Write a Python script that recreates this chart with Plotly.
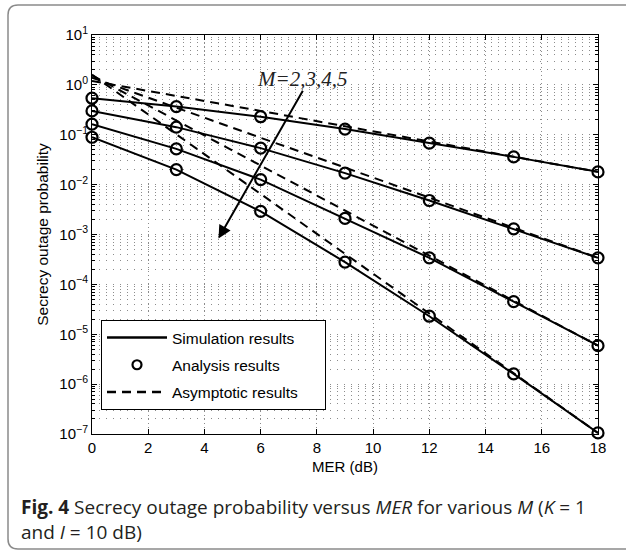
import plotly.graph_objects as go

# -----------------------------------------------------------
# data
# -----------------------------------------------------------
mer_db = [0, 3, 6, 9, 12, 15, 18]

# simulation / analysis points, one list per M
sim_m2 = [0.54, 0.367, 0.23, 0.13, 0.068, 0.036, 0.018]
sim_m3 = [0.30, 0.142, 0.054, 0.017, 0.0048, 0.0013, 3.4e-4]
sim_m4 = [0.163, 0.052, 0.0126, 0.0021, 3.4e-4, 4.5e-5, 5.9e-6]
sim_m5 = [0.089, 0.020, 0.0029, 2.8e-4, 2.3e-5, 1.6e-6, 1.05e-7]

# asymptotic curves
asym_m2 = [1.2, 0.59, 0.30, 0.148, 0.074, 0.036, 0.018]
asym_m3 = [1.4, 0.355, 0.087, 0.022, 0.0055, 0.00135, 3.4e-4]
asym_m4 = [1.55, 0.195, 0.024, 0.003, 3.8e-4, 4.7e-5, 5.9e-6]
asym_m5 = [1.6, 0.1, 0.0065, 4.1e-4, 2.6e-5, 1.6e-6, 1.05e-7]

y_tickvals = [1e1, 1e0, 1e-1, 1e-2, 1e-3, 1e-4, 1e-5, 1e-6, 1e-7]
y_ticktext = ["10<sup>1</sup>", "10<sup>0</sup>", "10<sup>\u22121</sup>", "10<sup>\u22122</sup>",
              "10<sup>\u22123</sup>", "10<sup>\u22124</sup>", "10<sup>\u22125</sup>",
              "10<sup>\u22126</sup>", "10<sup>\u22127</sup>"]
y_minor = [k * 10.0 ** e for e in range(-7, 1) for k in range(2, 10)]

sim_curves = [sim_m2, sim_m3, sim_m4, sim_m5]
asym_curves = [asym_m2, asym_m3, asym_m4, asym_m5]

# -----------------------------------------------------------
# layout helpers: plot area in pixels
# -----------------------------------------------------------
W, H = 626, 551
ML, MR, MT, MB = 92, 28, 35, 117
PW, PH = W - ML - MR, H - MT - MB


def px_x(px):
    return (px - ML) / PW


def px_y(py):
    return (MT + PH - py) / PH


fig = go.Figure()

# asymptotic (dashed)
for ys in asym_curves:
    fig.add_trace(go.Scatter(x=mer_db, y=ys, mode="lines",
                             line=dict(color="black", width=2, dash="9px,6px"),
                             showlegend=False, hoverinfo="skip"))

# simulation (solid)
for ys in sim_curves:
    fig.add_trace(go.Scatter(x=mer_db, y=ys, mode="lines",
                             line=dict(color="black", width=2),
                             showlegend=False))

# analysis (circles)
for ys in sim_curves:
    fig.add_trace(go.Scatter(x=mer_db, y=ys, mode="markers",
                             marker=dict(symbol="circle-open", size=11, color="black",
                                         line=dict(width=2.2)),
                             showlegend=False, cliponaxis=False))

# legend entries (trailing nbsp just widens the box like the original)
pad = "\u00a0" * 5
fig.add_trace(go.Scatter(x=[None], y=[None], mode="lines", name="Simulation results",
                         line=dict(color="black", width=2.5), legendgroup="a"))
fig.add_trace(go.Scatter(x=[None], y=[None], mode="markers", name="Analysis results",
                         marker=dict(symbol="circle-open", size=9, color="black",
                                     line=dict(width=2.2)), legendgroup="b"))
fig.add_trace(go.Scatter(x=[None], y=[None], mode="lines", name="Asymptotic results" + pad,
                         line=dict(color="black", width=2.5, dash="9px,6px"), legendgroup="c"))

# M=2,3,4,5 label + arrow
fig.add_annotation(x=7.48, y=0.12, xref="x", yref="y", text="M=2,3,4,5",
                   showarrow=False, xanchor="center", yanchor="middle",
                   font=dict(family="Liberation Serif", size=21, style="italic", color="#222"))
fig.add_annotation(x=4.5, y=-3.08, ax=7.53, ay=-0.086, xref="x", yref="y",
                   axref="x", ayref="y", text="", showarrow=True,
                   arrowhead=2, arrowsize=1.3, arrowwidth=2, arrowcolor="black")

# caption
fig.add_annotation(x=px_x(19), y=px_y(519.5), xref="paper", yref="paper", xanchor="left",
                   yanchor="middle", showarrow=False, align="left",
                   text="<b>Fig. 4</b> Secrecy outage probability versus <i>MER</i> for various "
                        "<i>M</i> (<i>K</i> = 1<br>and <i>I</i> = 10 dB)",
                   font=dict(family="Open Sans", size=19, color="#231f20"))

# rounded frame around figure + caption
r = 10
x0, x1 = px_x(8), px_x(640)
y0, y1 = px_y(5), px_y(549)
rx, ry = r / PW, r / PH
frame = (f"M {x1},{y0} L {x0 + rx},{y0} Q {x0},{y0} {x0},{y0 - ry} "
         f"L {x0},{y1 + ry} Q {x0},{y1} {x0 + rx},{y1} L {x1},{y1}")
fig.add_shape(type="path", path=frame, xref="paper", yref="paper",
              line=dict(color="#8a8a8a", width=1.5))

grid = "#8c8c8c"
fig.update_xaxes(range=[0, 18], tickmode="linear", tick0=0, dtick=2,
                 ticks="inside", ticklen=5, tickcolor="black", mirror="ticks",
                 showline=True, linecolor="black", linewidth=1,
                 showgrid=True, gridcolor=grid, gridwidth=1, griddash="1px,3px",
                 zeroline=False,
                 title=dict(text="MER (dB)", standoff=6, font=dict(size=15)),
                 tickfont=dict(size=15))
fig.update_yaxes(type="log", range=[-7, 1], tickmode="array",
                 tickvals=y_tickvals, ticktext=y_ticktext,
                 ticks="inside", ticklen=5, tickcolor="black", mirror="ticks",
                 showline=True, linecolor="black", linewidth=1,
                 showgrid=True, gridcolor=grid, gridwidth=1, griddash="1px,6px",
                 zeroline=False,
                 minor=dict(tickmode="array", tickvals=y_minor, ticks="inside",
                            ticklen=3, tickcolor="black", showgrid=True,
                            gridcolor=grid, gridwidth=1, griddash="1px,6px"),
                 title=dict(text="Secrecy outage probability", standoff=6, font=dict(size=15.5)),
                 tickfont=dict(size=15))

fig.update_layout(
    width=W, height=H,
    margin=dict(l=ML, r=MR, t=MT, b=MB, autoexpand=False),
    plot_bgcolor="white", paper_bgcolor="white",
    font=dict(family="Liberation Sans, Arial", size=13, color="black"),
    legend=dict(x=px_x(101), y=px_y(320), xanchor="left", yanchor="top",
                bgcolor="white", bordercolor="black", borderwidth=1,
                font=dict(size=15.5), tracegroupgap=4, itemwidth=60),
)

# page has a default 8px body margin; drop it so the figure sits at (0,0)
fig.write_html("out.html", config={"displayModeBar": False},
               post_script="document.body.style.margin='0';")
